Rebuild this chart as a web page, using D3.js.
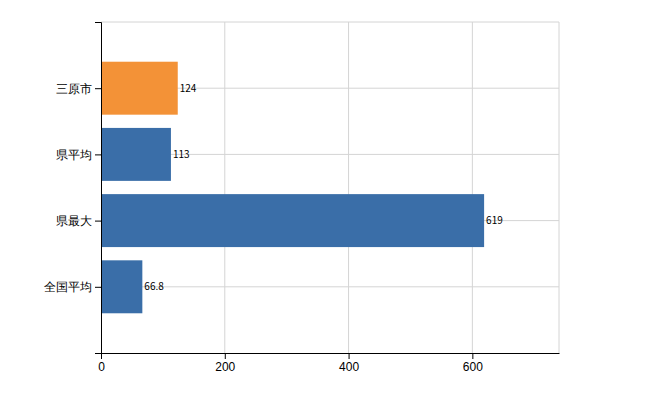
<!DOCTYPE html>
<html><head><meta charset="utf-8">
<script src="https://cdn.jsdelivr.net/npm/d3@7"></script>
<style>body{margin:0;background:#fff}</style>
</head><body><div id="vis"></div>
<script>
const categories = ["三原市", "県平均", "県最大", "全国平均"];
const values = [124, 113, 619, 66.8];
const labels = ["124", "113", "619", "66.8"];
const colors = ["#f39237", "#3a6ea8", "#3a6ea8", "#3a6ea8"];
const xTicks = [0, 200, 400, 600];

const WIDTH = 650, HEIGHT = 400;
const MARGIN = {top: 22, bottom: 47, left: 101, right: 91};

const svg = d3.select("#vis").append("svg")
  .attr("width", WIDTH).attr("height", HEIGHT)
  .style("font-family", "'Noto Sans CJK JP', sans-serif");

const x = d3.scaleLinear().domain([0, 740]).range([MARGIN.left, WIDTH - MARGIN.right]);
const y = d3.scalePoint().domain(categories).range([MARGIN.top, HEIGHT - MARGIN.bottom]).padding(1);
const barH = y.step() * 0.8;

// grid
svg.append("g").selectAll("line").data(xTicks.slice(1).concat([740])).join("line")
  .attr("x1", d => x(d)).attr("x2", d => x(d))
  .attr("y1", MARGIN.top).attr("y2", HEIGHT - MARGIN.bottom)
  .attr("stroke", "#d4d4d4");
svg.append("g").selectAll("line").data([null].concat(categories)).join("line")
  .attr("x1", MARGIN.left).attr("x2", WIDTH - MARGIN.right)
  .attr("y1", d => d === null ? MARGIN.top : y(d)).attr("y2", d => d === null ? MARGIN.top : y(d))
  .attr("stroke", "#d4d4d4");

svg.append("g").selectAll("rect").data(categories).join("rect")
  .attr("x", x(0)).attr("y", d => y(d) - barH / 2)
  .attr("width", (d, i) => x(values[i]) - x(0)).attr("height", barH)
  .attr("fill", (d, i) => colors[i]);

svg.append("g").selectAll("text").data(categories).join("text")
  .attr("x", (d, i) => x(values[i]) + 2).attr("y", d => y(d)).attr("dy", "0.35em")
  .attr("font-size", 10).attr("fill", "#000")
  .text((d, i) => labels[i]);

svg.append("g").attr("transform", `translate(0,${HEIGHT - MARGIN.bottom})`)
  .call(d3.axisBottom(x).tickValues(xTicks).tickSizeOuter(0))
  .call(g => g.selectAll("text").attr("font-size", 12).attr("fill", "#000"))
  .call(g => g.select(".domain").attr("stroke", "#000"));

svg.append("g").attr("transform", `translate(${MARGIN.left},0)`)
  .call(d3.axisLeft(y))
  .call(g => g.selectAll("text").attr("font-size", 12).attr("fill", "#000"))
  .call(g => g.select(".domain").attr("stroke", "#000"));
</script></body></html>
